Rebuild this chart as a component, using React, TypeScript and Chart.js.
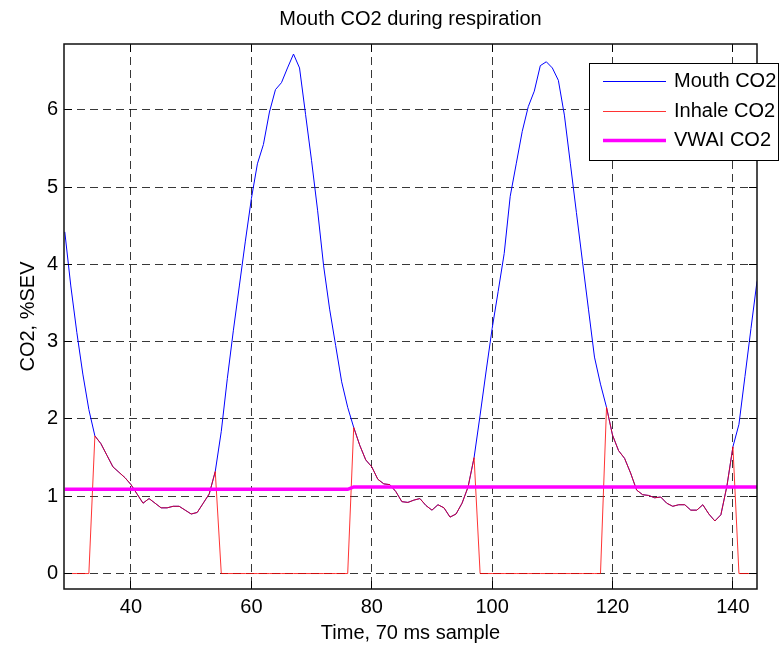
import React, { useEffect, useRef } from 'react';
import { Chart, registerables } from 'chart.js';

Chart.register(...registerables);

// ---- data ----
const FIRST_SAMPLE = 29; // time index of the first value in each series

const MOUTH_CO2 = [
  4.42, 3.72, 3.12, 2.58, 2.12, 1.78, 1.68, 1.53, 1.38, 1.31,
  1.24, 1.15, 1.03, 0.91, 0.97, 0.91, 0.85, 0.85, 0.87, 0.87,
  0.82, 0.77, 0.79, 0.91, 1.03, 1.32, 1.84, 2.52, 3.14, 3.72,
  4.3, 4.85, 5.3, 5.55, 5.97, 6.26, 6.35, 6.54, 6.72, 6.54,
  5.94, 5.34, 4.7, 3.98, 3.42, 2.95, 2.48, 2.15, 1.89, 1.66,
  1.47, 1.38, 1.22, 1.16, 1.15, 1.06, 0.93, 0.92, 0.95, 0.97,
  0.88, 0.82, 0.89, 0.85, 0.73, 0.77, 0.91, 1.12, 1.5, 2.05,
  2.62, 3.17, 3.65, 4.14, 4.88, 5.3, 5.72, 6.04, 6.24, 6.57,
  6.62, 6.54, 6.38, 5.93, 5.3, 4.67, 4.04, 3.42, 2.8, 2.45,
  2.15, 1.79, 1.59, 1.49, 1.3, 1.08, 1.02, 1.01, 0.98, 0.99,
  0.91, 0.87, 0.89, 0.89, 0.82, 0.82, 0.89, 0.77, 0.68, 0.76,
  1.13, 1.64, 1.93, 2.55, 3.17, 3.78,
];

const INHALE_CO2 = [
  0, 0, 0, 0, 0, 1.78, 1.68, 1.53, 1.38, 1.31,
  1.24, 1.15, 1.03, 0.91, 0.97, 0.91, 0.85, 0.85, 0.87, 0.87,
  0.82, 0.77, 0.79, 0.91, 1.03, 1.32, 0, 0, 0, 0,
  0, 0, 0, 0, 0, 0, 0, 0, 0, 0,
  0, 0, 0, 0, 0, 0, 0, 0, 1.89, 1.66,
  1.47, 1.38, 1.22, 1.16, 1.15, 1.06, 0.93, 0.92, 0.95, 0.97,
  0.88, 0.82, 0.89, 0.85, 0.73, 0.77, 0.91, 1.12, 1.5, 0,
  0, 0, 0, 0, 0, 0, 0, 0, 0, 0,
  0, 0, 0, 0, 0, 0, 0, 0, 0, 0,
  2.15, 1.79, 1.59, 1.49, 1.3, 1.08, 1.02, 1.01, 0.98, 0.99,
  0.91, 0.87, 0.89, 0.89, 0.82, 0.82, 0.89, 0.77, 0.68, 0.76,
  1.13, 1.64, 0, 0, 0, 0,
];

const VWAI_CO2 = [
  1.09, 1.09, 1.09, 1.09, 1.09, 1.09, 1.09, 1.09, 1.09, 1.09,
  1.09, 1.09, 1.09, 1.09, 1.09, 1.09, 1.09, 1.09, 1.09, 1.09,
  1.09, 1.09, 1.09, 1.09, 1.09, 1.09, 1.09, 1.09, 1.09, 1.09,
  1.09, 1.09, 1.09, 1.09, 1.09, 1.09, 1.09, 1.09, 1.09, 1.09,
  1.09, 1.09, 1.09, 1.09, 1.09, 1.09, 1.09, 1.09, 1.12, 1.12,
  1.12, 1.12, 1.12, 1.12, 1.12, 1.12, 1.12, 1.12, 1.12, 1.12,
  1.12, 1.12, 1.12, 1.12, 1.12, 1.12, 1.12, 1.12, 1.12, 1.12,
  1.12, 1.12, 1.12, 1.12, 1.12, 1.12, 1.12, 1.12, 1.12, 1.12,
  1.12, 1.12, 1.12, 1.12, 1.12, 1.12, 1.12, 1.12, 1.12, 1.12,
  1.12, 1.12, 1.12, 1.12, 1.12, 1.12, 1.12, 1.12, 1.12, 1.12,
  1.12, 1.12, 1.12, 1.12, 1.12, 1.12, 1.12, 1.12, 1.12, 1.12,
  1.12, 1.12, 1.12, 1.12, 1.12, 1.12,
];

const SERIES_LABELS = ['Mouth CO2', 'Inhale CO2', 'VWAI CO2'];
const X_TICKS = [40, 60, 80, 100, 120, 140];
const Y_TICKS = [0, 1, 2, 3, 4, 5, 6];
const X_MIN = 28.87;
const X_MAX = 144;
const Y_MIN = -0.2;
const Y_MAX = 6.85;

const TITLE = 'Mouth CO2 during respiration';
const X_TITLE = 'Time, 70 ms sample';
const Y_TITLE = 'CO2, %SEV';

const FONT = '"Liberation Sans", Arial, Helvetica, sans-serif';

const toPoints = (values: number[]) =>
  values.map((v, i) => ({ x: FIRST_SAMPLE + i, y: v }));

const align = (p: number) => Math.round(p - 0.5) + 0.5;

// inner tick marks + axes box (MATLAB style)
const framePlugin = {
  id: 'matlabFrame',
  afterDatasetsDraw(chart: any) {
    const { ctx, chartArea, scales } = chart;
    const { left, right, top, bottom } = chartArea;
    const xs = scales.x;
    const ys = scales.y;
    const L = 8;
    ctx.save();
    ctx.strokeStyle = '#000';
    ctx.lineWidth = 1;
    ctx.setLineDash([]);
    ctx.beginPath();
    xs.ticks.forEach((t: any) => {
      const px = align(xs.getPixelForValue(t.value));
      ctx.moveTo(px, bottom);
      ctx.lineTo(px, bottom - L);
      ctx.moveTo(px, top);
      ctx.lineTo(px, top + L);
    });
    ys.ticks.forEach((t: any) => {
      const py = align(ys.getPixelForValue(t.value));
      ctx.moveTo(left, py);
      ctx.lineTo(left + L, py);
      ctx.moveTo(right, py);
      ctx.lineTo(right - L, py);
    });
    ctx.stroke();
    ctx.lineWidth = 1.5;
    ctx.strokeStyle = '#111';
    ctx.strokeRect(left, top, right - left, bottom - top);
    ctx.restore();
  },
};

// boxed legend overlapping the top-right corner
const legendPlugin = {
  id: 'boxedLegend',
  afterDraw(chart: any) {
    const { ctx, chartArea } = chart;
    const left = chartArea.right - 168;
    const top = chartArea.top + 19;
    const w = 189;
    const h = 97;
    ctx.save();
    ctx.setLineDash([]);
    ctx.fillStyle = '#fff';
    ctx.fillRect(left, top, w, h);
    ctx.strokeStyle = '#000';
    ctx.lineWidth = 1;
    ctx.strokeRect(left + 0.5, top + 0.5, w, h);
    ctx.font = `20px ${FONT}`;
    ctx.textBaseline = 'middle';
    ctx.textAlign = 'left';
    chart.data.datasets.forEach((ds: any, i: number) => {
      const yy = Math.round(top + 18 + i * 29.5);
      ctx.strokeStyle = ds.borderColor;
      ctx.lineWidth = ds.borderWidth;
      ctx.beginPath();
      ctx.moveTo(left + 14, yy + 0.5);
      ctx.lineTo(left + 77, yy + 0.5);
      ctx.stroke();
      ctx.fillStyle = '#000';
      ctx.fillText(ds.label, left + 85, yy);
    });
    ctx.restore();
  },
};

export default function App() {
  const canvasRef = useRef<HTMLCanvasElement | null>(null);

  useEffect(() => {
    if (!canvasRef.current) return;
    const gridColor = 'rgba(0,0,0,0.78)';
    const chart = new Chart(canvasRef.current, {
      type: 'line',
      data: {
        datasets: [
          {
            label: SERIES_LABELS[0],
            data: toPoints(MOUTH_CO2),
            borderColor: '#0000ff',
            borderWidth: 1,
            pointRadius: 0,
            tension: 0,
            order: 3,
          },
          {
            label: SERIES_LABELS[1],
            data: toPoints(INHALE_CO2),
            borderColor: 'rgba(255,0,0,0.8)',
            borderWidth: 1,
            pointRadius: 0,
            tension: 0,
            order: 2,
          },
          {
            label: SERIES_LABELS[2],
            data: toPoints(VWAI_CO2),
            borderColor: '#ff00ff',
            borderWidth: 3.5,
            pointRadius: 0,
            tension: 0,
            order: 1,
          },
        ],
      },
      options: {
        animation: false,
        responsive: true,
        maintainAspectRatio: false,
        layout: { padding: { left: 0, top: 0, right: 24, bottom: 0 } },
        plugins: {
          legend: { display: false },
          tooltip: { enabled: false },
          title: {
            display: true,
            text: TITLE,
            fullSize: false,
            color: '#000',
            font: { family: FONT, size: 20, weight: 'normal' },
            padding: { top: 7, bottom: 13 },
          },
        },
        scales: {
          x: {
            type: 'linear',
            min: X_MIN,
            max: X_MAX,
            afterBuildTicks: (s: any) => {
              s.ticks = X_TICKS.map((v) => ({ value: v }));
            },
            afterFit: (s: any) => {
              s.height = 57;
            },
            grid: { color: gridColor, lineWidth: 1, drawTicks: false },
            border: { display: false, dash: [8, 5] },
            ticks: {
              color: '#000',
              font: { family: FONT, size: 20 },
              padding: 6,
              maxRotation: 0,
              autoSkip: false,
              callback: (v: any) => String(v),
            },
            title: {
              display: true,
              text: X_TITLE,
              color: '#000',
              font: { family: FONT, size: 20 },
              padding: { top: 0, bottom: 1 },
            },
          },
          y: {
            type: 'linear',
            min: Y_MIN,
            max: Y_MAX,
            afterBuildTicks: (s: any) => {
              s.ticks = Y_TICKS.map((v) => ({ value: v }));
            },
            afterFit: (s: any) => {
              s.width = 64;
            },
            grid: { color: gridColor, lineWidth: 1, drawTicks: false },
            border: { display: false, dash: [8, 5] },
            ticks: {
              color: '#000',
              font: { family: FONT, size: 20 },
              padding: 6,
              callback: (v: any) => String(v),
            },
            title: {
              display: true,
              text: Y_TITLE,
              color: '#000',
              font: { family: FONT, size: 20 },
              padding: { top: 16, bottom: 0 },
            },
          },
        },
      },
      plugins: [framePlugin, legendPlugin],
    } as any);
    return () => chart.destroy();
  }, []);

  return (
    <div
      style={{
        position: 'fixed',
        left: 0,
        top: 0,
        width: 781,
        height: 646,
        background: '#fff',
      }}
    >
      <canvas ref={canvasRef} />
    </div>
  );
}
